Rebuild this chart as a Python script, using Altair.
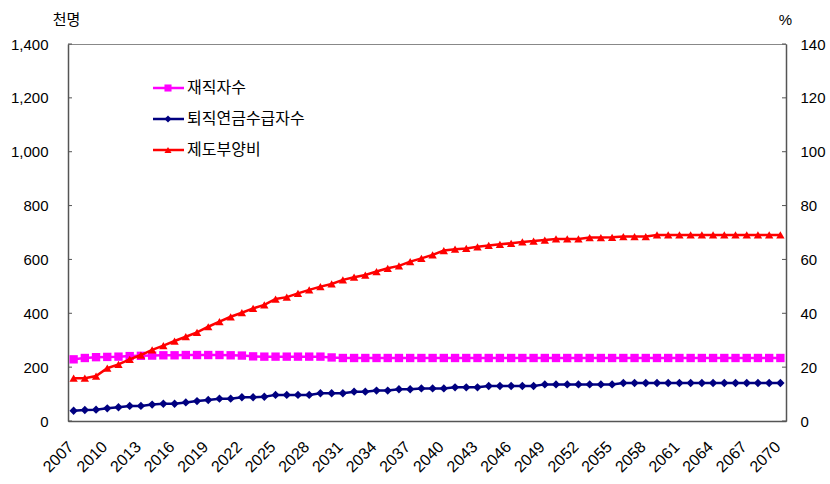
import altair as alt
import pandas as pd

years = list(range(2007, 2071))

# 재직자수 (천명)
employees = [229, 234, 237, 238, 239, 241, 242, 243, 244, 244, 245, 245, 245, 245, 244, 243,
             240, 239, 239, 239, 239, 239, 239, 236, 234, 234, 234, 234, 234, 234, 234, 234,
             234, 234, 234, 234, 234, 234, 234, 234, 234, 234, 234, 234, 234, 234, 234, 234,
             234, 234, 234, 234, 234, 234, 234, 234, 234, 234, 234, 234, 234, 234, 234, 234]

# 퇴직연금수급자수 (천명)
pensioners = [38, 41, 42, 47, 51, 56, 56, 61, 64, 64, 69, 74, 78, 83, 83, 88,
              88, 90, 97, 97, 97, 97, 103, 103, 103, 109, 109, 113, 113, 118, 118, 121,
              121, 121, 125, 125, 125, 130, 130, 130, 130, 130, 136, 136, 136, 136, 136, 136,
              136, 141, 141, 141, 141, 141, 141, 141, 141, 141, 141, 141, 141, 141, 141, 141]

# 제도부양비 (%)
dependency = [15.9, 15.9, 16.7, 19.6, 21.0, 22.9, 24.5, 26.4, 28.0, 29.7, 31.3, 32.9, 35.0, 36.9, 38.7, 40.2,
              41.8, 43.1, 45.3, 46.0, 47.4, 48.7, 49.9, 50.9, 52.4, 53.4, 54.2, 55.5, 56.7, 57.6, 59.2, 60.4,
              61.7, 63.3, 63.8, 64.1, 64.7, 65.2, 65.6, 66.0, 66.5, 66.8, 67.2, 67.6, 67.6, 67.6, 68.1, 68.1,
              68.2, 68.5, 68.5, 68.5, 69.1, 69.1, 69.1, 69.1, 69.1, 69.1, 69.1, 69.1, 69.1, 69.1, 69.1, 69.1]

series_names = ["재직자수", "퇴직연금수급자수", "제도부양비"]
series_colors = ["#FF00FF", "#000080", "#FF0000"]
series_shapes = ["square", "diamond", "triangle-up"]
marker_sizes = [70, 70, 95]

left_ticks = [0, 200, 400, 600, 800, 1000, 1200, 1400]
right_ticks = [0, 20, 40, 60, 80, 100, 120, 140]
year_labels = list(range(2007, 2071, 3))

W, H = 718, 377
FONT = "Liberation Sans"
KFONT = "Noto Sans CJK KR"

left_df = pd.concat([
    pd.DataFrame({"year": years, "value": employees, "series": series_names[0]}),
    pd.DataFrame({"year": years, "value": pensioners, "series": series_names[1]}),
])
right_df = pd.DataFrame({"year": years, "value": dependency, "series": series_names[2]})

x_enc = alt.X("year:Q",
              scale=alt.Scale(domain=[2006.5, 2070.5], nice=False, zero=False),
              axis=alt.Axis(values=year_labels, format="d", labelAngle=-45, labelAlign="right",
                            labelBaseline="middle", labelPadding=23, labelOffset=-3, ticks=False,
                            grid=False, title=None, labelFont=FONT, labelFontSize=16,
                            labelColor="#000", domainColor="#555", domainWidth=1.5,
                            labelOverlap=False, labelFlush=False))

color_scale = alt.Scale(domain=series_names, range=series_colors)
shape_scale = alt.Scale(domain=series_names, range=series_shapes)
size_scale = alt.Scale(domain=series_names, range=marker_sizes)

y_left = alt.Y("value:Q",
               scale=alt.Scale(domain=[0, 1400], nice=False),
               axis=alt.Axis(values=left_ticks, format=",d", ticks=False, grid=False,
                             labelPadding=20, labelFont=FONT, labelFontSize=15, labelColor="#000",
                             domainColor="#555", domainWidth=1.5,
                             title="천명", titleAngle=0, titleX=-2, titleY=-25,
                             titleAlign="center", titleBaseline="middle",
                             titleFont=KFONT, titleFontSize=15, titleFontWeight="normal",
                             titleColor="#000"))

y_right = alt.Y("value:Q",
                scale=alt.Scale(domain=[0, 140], nice=False),
                axis=alt.Axis(orient="right", values=right_ticks, format="d", ticks=False, grid=False,
                              labelPadding=14, labelFont=FONT, labelFontSize=15, labelColor="#000",
                              domainColor="#555", domainWidth=1.5,
                              title="%", titleAngle=0, titleX=-1, titleY=-25,
                              titleAlign="center", titleBaseline="middle",
                              titleFont=FONT, titleFontSize=15, titleFontWeight="normal",
                              titleColor="#000"))

left_base = alt.Chart(left_df).encode(
    x=x_enc, y=y_left,
    color=alt.Color("series:N", scale=color_scale, legend=None),
)
left_lines = left_base.mark_line(strokeWidth=2.5)
left_pts = left_base.mark_point(filled=True, opacity=1).encode(
    shape=alt.Shape("series:N", scale=shape_scale, legend=None),
    size=alt.Size("series:N", scale=size_scale, legend=None),
)

# short inward tick marks on both value axes
tick_df = pd.DataFrame({"value": left_ticks})
ticks_l = alt.Chart(tick_df).mark_rule(color="#555", strokeWidth=1).encode(
    y="value:Q", x=alt.value(0), x2=alt.value(4))
ticks_r = alt.Chart(tick_df).mark_rule(color="#555", strokeWidth=1).encode(
    y="value:Q", x=alt.value(W - 4), x2=alt.value(W))

left_layer = alt.layer(left_lines, left_pts, ticks_l, ticks_r)

right_base = alt.Chart(right_df).encode(
    x=x_enc, y=y_right,
    color=alt.Color("series:N", scale=color_scale, legend=None),
)
right_line = right_base.mark_line(strokeWidth=2.5)
right_pts = right_base.mark_point(filled=True, opacity=1).encode(
    shape=alt.Shape("series:N", scale=shape_scale, legend=None),
    size=alt.Size("series:N", scale=size_scale, legend=None),
)
right_layer = alt.layer(right_line, right_pts)

# legend block inside the plot area
row_top, row_gap = 44, 31
leg_df = pd.DataFrame({
    "series": series_names,
    "color": series_colors,
    "shape": series_shapes,
    "row": [row_top + i * row_gap for i in range(3)],
})
leg_y = alt.Y("row:Q", scale=None, axis=None)
leg_line = alt.Chart(leg_df).mark_rule(strokeWidth=2.5).encode(
    y=leg_y, x=alt.value(85), x2=alt.value(116),
    color=alt.Color("color:N", scale=None))
leg_pt = alt.Chart(leg_df).mark_point(filled=True, opacity=1, size=50).encode(
    y=leg_y, x=alt.value(100),
    color=alt.Color("color:N", scale=None),
    shape=alt.Shape("shape:N", scale=None))
leg_text = alt.Chart(leg_df).mark_text(align="left", baseline="middle", font=KFONT,
                                       fontSize=16, color="#000").encode(
    y=leg_y, x=alt.value(119), text="series:N")
legend_layer = alt.layer(leg_line, leg_pt, leg_text)

chart = alt.layer(left_layer, right_layer, legend_layer).resolve_scale(
    y="independent", color="independent", shape="independent", size="independent"
).properties(
    width=W, height=H,
    autosize=alt.AutoSizeParams(type="none"),
    padding={"left": 68, "top": 44, "right": 44, "bottom": 63},
    background="white",
).configure_view(stroke="#888", strokeWidth=1)

chart.save("out.html", embed_options={"renderer": "svg", "actions": False})
